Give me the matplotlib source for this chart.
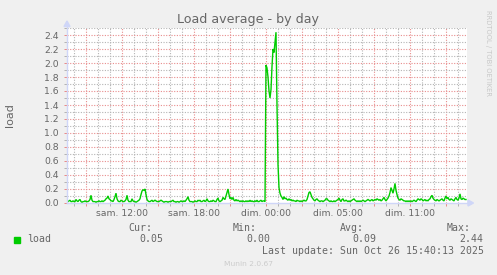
import matplotlib
matplotlib.use("Agg")
import matplotlib.pyplot as plt
import numpy as np
from matplotlib.patches import Polygon, Rectangle
from matplotlib.lines import Line2D

# ---------------- data ----------------
TITLE = "Load average - by day"
YLABEL = "load"
SERIES_NAME = "load"
START_HOUR = 7 + 25 / 60.0          # sam. 07:25 (hours since sam. 00:00, elapsed time)
STEP_MIN = 5                         # 5-minute samples

load = [
    0.02, 0.02, 0.03, 0.04, 0.02, 0.02, 0.03, 0.02, 0.02, 0.05, 0.03, 0.02, 0.04, 0.05, 0.02, 0.01, 0.02, 0.02, 0.03, 0.02,
    0.02, 0.02, 0.03, 0.05, 0.11, 0.04, 0.02, 0.02, 0.02, 0.01, 0.02, 0.02, 0.03, 0.02, 0.02, 0.03, 0.02, 0.03, 0.04, 0.06,
    0.07, 0.10, 0.06, 0.05, 0.03, 0.03, 0.02, 0.05, 0.09, 0.14, 0.06, 0.03, 0.02, 0.02, 0.04, 0.03, 0.02, 0.02, 0.03, 0.05,
    0.11, 0.04, 0.02, 0.02, 0.02, 0.06, 0.03, 0.02, 0.02, 0.01, 0.02, 0.03, 0.04, 0.06, 0.12, 0.17, 0.19, 0.18, 0.20, 0.12,
    0.05, 0.03, 0.02, 0.02, 0.03, 0.04, 0.02, 0.03, 0.04, 0.03, 0.02, 0.02, 0.02, 0.03, 0.04, 0.03, 0.02, 0.01, 0.02, 0.02,
    0.02, 0.01, 0.02, 0.02, 0.02, 0.03, 0.04, 0.02, 0.02, 0.01, 0.02, 0.02, 0.01, 0.02, 0.03, 0.02, 0.02, 0.03, 0.02, 0.04,
    0.06, 0.09, 0.04, 0.02, 0.02, 0.02, 0.01, 0.02, 0.03, 0.02, 0.02, 0.04, 0.03, 0.04, 0.02, 0.02, 0.03, 0.04, 0.02, 0.03,
    0.06, 0.03, 0.02, 0.02, 0.03, 0.02, 0.04, 0.03, 0.02, 0.02, 0.05, 0.07, 0.03, 0.02, 0.03, 0.04, 0.08, 0.06, 0.05, 0.10,
    0.15, 0.20, 0.12, 0.06, 0.08, 0.05, 0.08, 0.04, 0.03, 0.05, 0.03, 0.04, 0.03, 0.02, 0.03, 0.02, 0.03, 0.02, 0.02, 0.03,
    0.02, 0.03, 0.02, 0.04, 0.02, 0.03, 0.02, 0.02, 0.03, 0.02, 0.04, 0.02, 0.02, 0.03, 0.04, 0.02, 0.03, 0.03, 0.02, 1.97,
    1.93, 1.80, 1.60, 1.50, 1.62, 1.95, 2.20, 2.15, 2.30, 2.44, 1.40, 0.55, 0.22, 0.14, 0.10, 0.08, 0.05, 0.09, 0.06, 0.07,
    0.05, 0.04, 0.06, 0.04, 0.05, 0.03, 0.04, 0.03, 0.03, 0.02, 0.04, 0.03, 0.03, 0.02, 0.03, 0.02, 0.03, 0.04, 0.03, 0.03,
    0.05, 0.10, 0.15, 0.16, 0.12, 0.08, 0.06, 0.04, 0.03, 0.05, 0.06, 0.04, 0.03, 0.02, 0.03, 0.03, 0.02, 0.03, 0.04, 0.06,
    0.06, 0.04, 0.03, 0.02, 0.03, 0.02, 0.02, 0.03, 0.02, 0.03, 0.04, 0.05, 0.07, 0.04, 0.02, 0.05, 0.06, 0.03, 0.03, 0.04,
    0.03, 0.02, 0.03, 0.02, 0.03, 0.04, 0.05, 0.06, 0.04, 0.03, 0.02, 0.03, 0.02, 0.03, 0.02, 0.03, 0.04, 0.03, 0.02, 0.03,
    0.04, 0.05, 0.04, 0.03, 0.04, 0.05, 0.03, 0.04, 0.05, 0.04, 0.06, 0.05, 0.04, 0.05, 0.03, 0.04, 0.06, 0.08, 0.05, 0.03,
    0.05, 0.07, 0.10, 0.15, 0.22, 0.18, 0.14, 0.20, 0.28, 0.18, 0.12, 0.07, 0.05, 0.04, 0.06, 0.05, 0.04, 0.03, 0.03, 0.02,
    0.03, 0.02, 0.03, 0.02, 0.03, 0.02, 0.03, 0.04, 0.03, 0.02, 0.04, 0.06, 0.05, 0.04, 0.06, 0.05, 0.03, 0.04, 0.05, 0.03,
    0.04, 0.03, 0.05, 0.06, 0.09, 0.11, 0.07, 0.05, 0.04, 0.03, 0.05, 0.04, 0.03, 0.04, 0.05, 0.06, 0.04, 0.03, 0.07, 0.10,
    0.06, 0.08, 0.05, 0.04, 0.06, 0.05, 0.04, 0.03, 0.06, 0.08, 0.05, 0.04, 0.07, 0.13, 0.06, 0.05, 0.07, 0.06, 0.05, 0.05,
]

x_tick_pos = [12, 18, 24, 30, 36]
x_tick_labels = ["sam. 12:00", "sam. 18:00", "dim. 00:00", "dim. 05:00", "dim. 11:00"]
y_ticks = [0.0, 0.2, 0.4, 0.6, 0.8, 1.0, 1.2, 1.4, 1.6, 1.8, 2.0, 2.2, 2.4]
Y_MAX = 2.5

stat_labels = ["Cur:", "Min:", "Avg:", "Max:"]
stat_values = ["0.05", "0.00", "0.09", "2.44"]
LAST_UPDATE = "Last update: Sun Oct 26 15:40:13 2025"
FOOTER = "Munin 2.0.67"
WATERMARK = "RRDTOOL / TOBI OETIKER"

# ---------------- styling ----------------
W, H = 497, 275
BG = "#F0F0F0"
FONT_C = "#666666"
AXIS_C = "#CFD6F8"
LINE_C = "#00CC00"
GRID_C = "#B4B4B4"
MGRID_C = "#E88C8C"
DOT = (0, (1, 1.4))
GLW = 0.8


def fx(px):
    return px / W


def fy(py):
    return 1 - py / H


fig = plt.figure(figsize=(W / 100, H / 100), dpi=100, facecolor=BG)
L, R, T, B = 67, 467, 28, 203
ax = fig.add_axes([fx(L), fy(B), fx(R) - fx(L), fy(T) - fy(B)])
ax.set_facecolor("white")

t = START_HOUR + np.arange(len(load)) * STEP_MIN / 60.0
x0 = START_HOUR
x1 = START_HOUR + len(load) * STEP_MIN / 60.0
ax.set_xlim(x0, x1)
ax.set_ylim(0, Y_MAX)

# grid
minor_h = np.arange(np.ceil(x0), x1, 1.0)
major_h = [h for h in minor_h if int(h) % 3 == 0]
for h in minor_h:
    if h not in major_h:
        ax.axvline(h, color=GRID_C, lw=GLW, ls=DOT, zorder=1)
for h in major_h:
    ax.axvline(h, color=MGRID_C, lw=GLW, ls=DOT, zorder=1)
for v in np.arange(0.1, Y_MAX + 0.01, 0.1):
    major = abs(round(v * 10) % 2) == 0
    ax.axhline(v, color=MGRID_C if major else GRID_C, lw=GLW, ls=DOT, zorder=1)

ax.plot(t, load, color=LINE_C, lw=1.0, zorder=3, solid_joinstyle="miter")

for s in ax.spines.values():
    s.set_visible(False)

ax.set_xticks(major_h)
ax.set_xticklabels([x_tick_labels[x_tick_pos.index(h)] if h in x_tick_pos else "" for h in major_h])
ax.set_xticks(minor_h, minor=True)
ax.set_yticks(y_ticks)
ax.set_yticklabels(["%.1f" % v for v in y_ticks])
ax.set_yticks(np.arange(0.1, Y_MAX + 0.01, 0.2), minor=True)
ax.tick_params(axis="x", which="major", length=2.2, width=0.72, color=MGRID_C, pad=2.0,
               labelsize=6.7, labelcolor=FONT_C)
ax.tick_params(axis="x", which="minor", length=2.2, width=0.72, color=GRID_C)
ax.tick_params(axis="y", which="major", length=2.2, width=0.72, color=MGRID_C, pad=3.5,
               labelsize=6.7, labelcolor=FONT_C)
ax.tick_params(axis="y", which="minor", length=2.2, width=0.72, color=GRID_C)

# axes lines + arrows
fig.add_artist(Line2D([fx(L), fx(470)], [fy(B), fy(B)], color=AXIS_C, lw=1.0, zorder=5))
fig.add_artist(Line2D([fx(L), fx(L)], [fy(B), fy(24)], color=AXIS_C, lw=1.0, zorder=5))
fig.add_artist(Polygon([[fx(L - 3), fy(26.5)], [fx(L + 3), fy(26.5)], [fx(L), fy(21)]],
                       closed=True, color=AXIS_C, zorder=6))
fig.add_artist(Polygon([[fx(468), fy(B - 3)], [fx(468), fy(B + 3)], [fx(473.5), fy(B)]],
                       closed=True, color=AXIS_C, zorder=6))

# texts
fig.text(fx(248), fy(19.5), TITLE, ha="center", va="center", fontsize=9.1, color=FONT_C)
fig.text(fx(10), fy(115), YLABEL, ha="center", va="center", rotation=90, fontsize=8, color=FONT_C)
fig.text(fx(488), fy(53), WATERMARK, ha="center", va="center", rotation=270, fontsize=4.9,
         color="#C8C8C8")

mono = dict(family="DejaVu Sans Mono", fontsize=7.1, color=FONT_C, va="center", ha="left")
fig.add_artist(Rectangle((fx(14), fy(243)), fx(6), fy(237) - fy(243), color=LINE_C))
fig.text(fx(27), fy(239.5), SERIES_NAME, **mono)
stat_lab_x = [128, 233, 340, 447]
stat_val_x = [139, 246, 352, 459]
for lab, lx in zip(stat_labels, stat_lab_x):
    fig.text(fx(lx), fy(228), lab, **mono)
for val, vx in zip(stat_values, stat_val_x):
    fig.text(fx(vx), fy(239.5), val, **mono)
fig.text(fx(262), fy(251.5), LAST_UPDATE, **mono)
fig.text(fx(248), fy(264), FOOTER, ha="center", va="center", fontsize=5.4, color="#CCCCCC")

fig.savefig("out.png", dpi=100, facecolor=BG)
